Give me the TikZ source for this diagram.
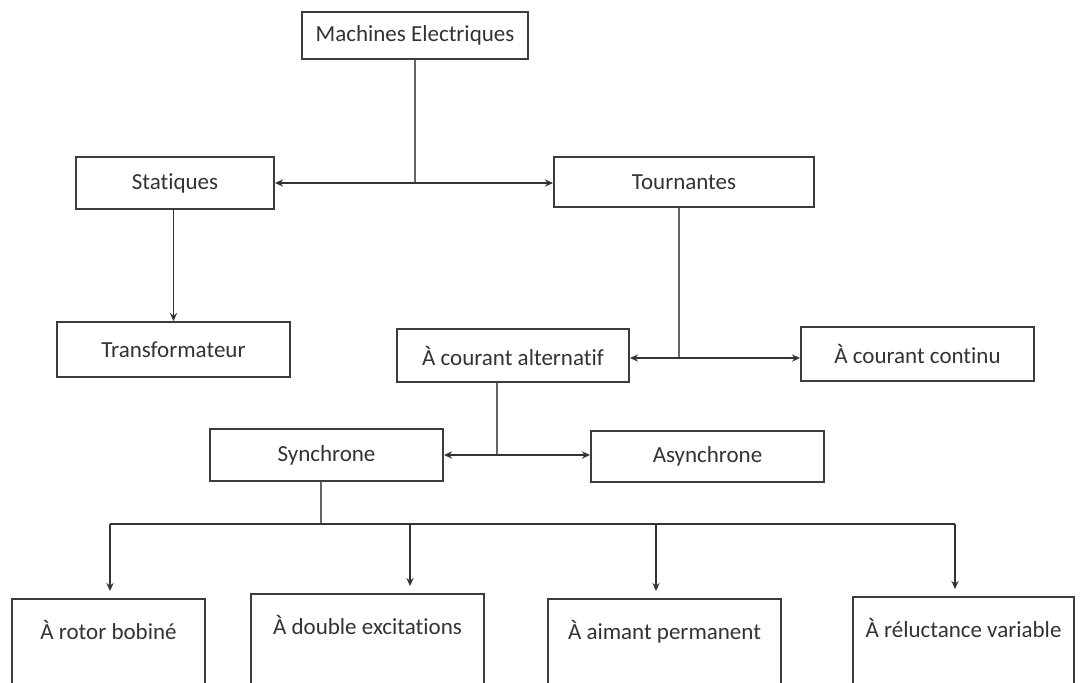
\documentclass[tikz,border=0pt]{standalone}
\usepackage{fontspec}
\setmainfont{Carlito}[Ligatures=NoCommon]
\usetikzlibrary{arrows.meta}
\definecolor{boxc}{HTML}{3C3C3C}
\definecolor{linec}{HTML}{666666}
\definecolor{arrc}{HTML}{333333}
\definecolor{txtc}{HTML}{333333}
\tikzset{
  box/.style={draw=boxc, line width=1pt, inner sep=0pt, text=txtc,
    font=\fontsize{11.5}{13}\selectfont},
  openbox/.style={box, anchor=north, text height=20pt, text depth=44pt},
  conn/.style={draw=linec, line width=0.8pt},
  tip/.tip={Stealth[length=4pt,width=3.6pt]},
  arr/.style={draw=arrc, line width=0.85pt, -tip},
  darr/.style={draw=arrc, line width=0.85pt, tip-tip}
}
\begin{document}
\begin{tikzpicture}[x=0.5pt,y=-0.5pt]
\useasboundingbox (0,0) rectangle (1081,682);
\clip (0,0) rectangle (1081,682);
\fill[white] (0,0) rectangle (1081,682);
% boxes
\node[box, minimum width=113pt, minimum height=23.5pt] (mach) at (415,35.5) {Machines Electriques};
\node[box, minimum width=99pt, minimum height=26pt] (stat) at (175,183) {Statiques};
\node[box, minimum width=130pt, minimum height=25pt] (tourn) at (684,182) {Tournantes};
\node[box, minimum width=116.5pt, minimum height=27.5pt] (trans) at (173.5,349.5) {Transformateur};
\node[box, minimum width=116pt, minimum height=26.5pt] (alt) at (513,355.5) {À courant alternatif};
\node[box, minimum width=116.5pt, minimum height=27pt] (cont) at (917.5,354) {À courant continu};
\node[box, minimum width=116.5pt, minimum height=26pt] (sync) at (326.5,455) {Synchrone};
\node[box, minimum width=116.5pt, minimum height=25.5pt] (async) at (707.5,456.5) {Asynchrone};
\node[openbox, minimum width=96.5pt] (rotor) at (108.5,598) {À rotor bobiné};
\node[openbox, minimum width=116.5pt] (double) at (367.5,593) {À double excitations};
\node[openbox, minimum width=116.5pt] (aimant) at (664.5,598) {À aimant permanent};
\node[openbox, minimum width=110.5pt] (reluc) at (963.5,596) {À réluctance variable};
% junctions
\coordinate (j1) at (415,183);
\coordinate (j2) at (679,358);
\coordinate (j3) at (497,455);
\coordinate (b0) at (321,524);
\coordinate (b1) at (110,524);
\coordinate (b2) at (410,524);
\coordinate (b3) at (656,524);
\coordinate (b4) at (955,524);
% connectors
\draw[conn] (mach.south) -- (j1);
\draw[darr] (stat.east |- j1) -- (tourn.west |- j1);
\draw[arr] (stat.south -| trans.north) -- (trans.north);
\draw[conn] (tourn.south -| j2) -- (j2);
\draw[darr] (alt.east |- j2) -- (cont.west |- j2);
\draw[conn] (alt.south -| j3) -- (j3);
\draw[darr] (sync.east |- j3) -- (async.west |- j3);
\draw[conn] (sync.south -| b0) -- (b0);
\draw[arrc, line width=0.85pt] (b1) -- (b4);
\draw[arr] (b1) -- ([yshift=3.5pt]b1 |- rotor.north);
\draw[arr] (b2) -- ([yshift=3.5pt]b2 |- double.north);
\draw[arr] (b3) -- ([yshift=3.5pt]b3 |- aimant.north);
\draw[arr] (b4) -- ([yshift=3.5pt]b4 |- reluc.north);
\end{tikzpicture}
\end{document}
